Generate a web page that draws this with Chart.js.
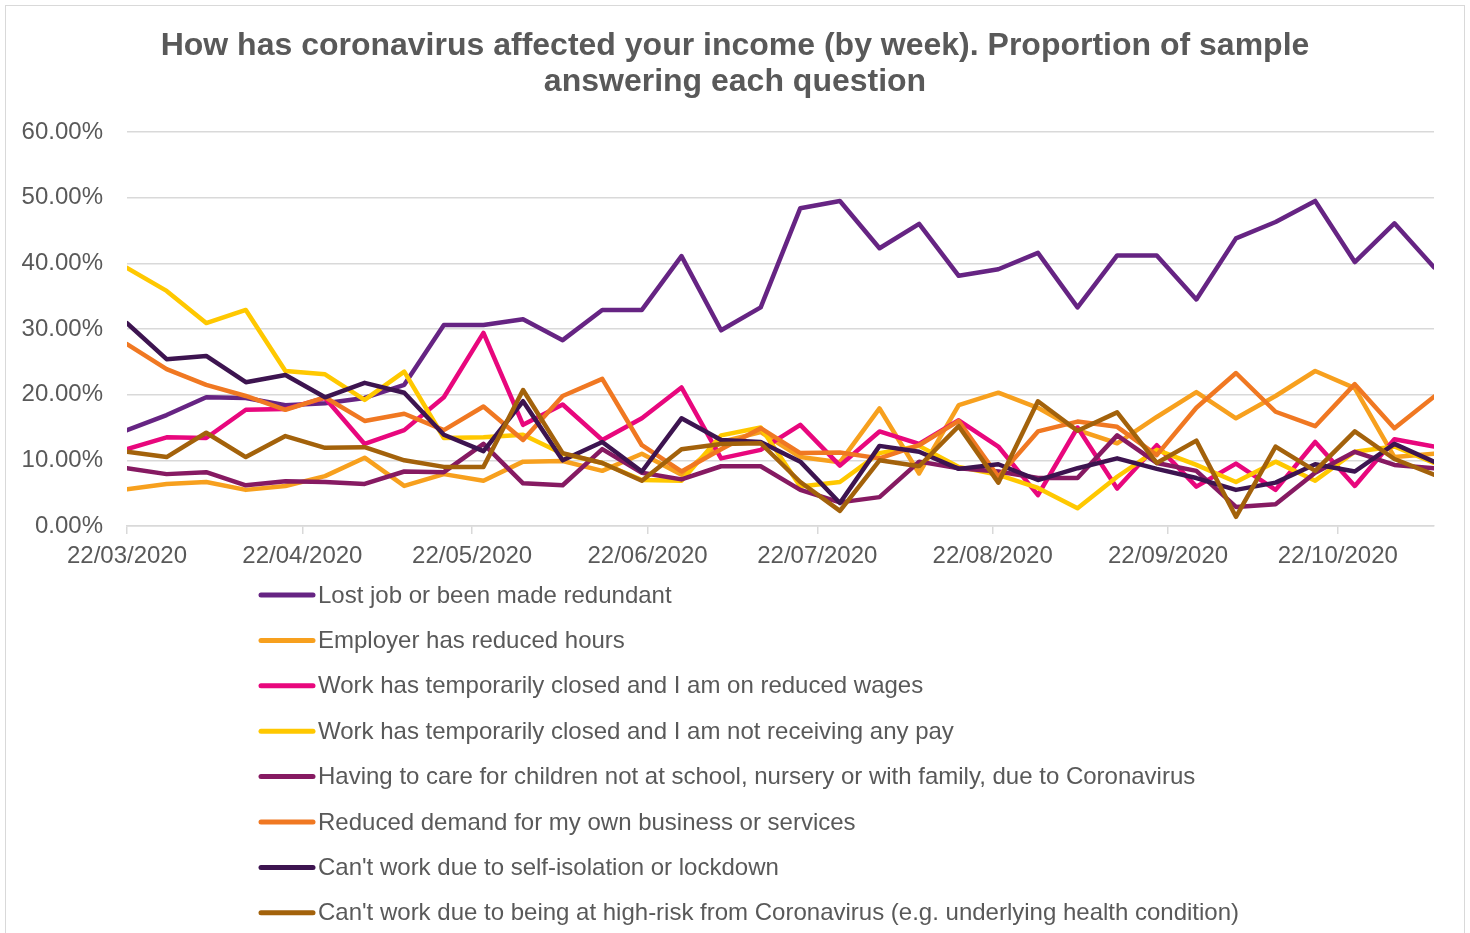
<!DOCTYPE html>
<html>
<head>
<meta charset="utf-8">
<title>Income impact by week</title>
<script src="https://cdn.jsdelivr.net/npm/chart.js@4.4.1/dist/chart.umd.min.js"></script>
<style>
  html, body { margin: 0; padding: 0; background: #ffffff; }
  #frame {
    position: absolute; left: 5px; top: 5px; width: 1460px; height: 940px;
    border: 1.5px solid #d9d9d9; box-sizing: border-box;
  }
  #wrap { position: absolute; left: 0; top: 0; width: 1470px; height: 933px; }
</style>
</head>
<body>
<div id="frame"></div>
<div id="wrap"><canvas id="incomeChart" width="1470" height="933"></canvas></div>
<script>
// Survey weeks (week commencing)
const weeks = ['22/03/2020', '29/03/2020', '05/04/2020', '12/04/2020', '19/04/2020', '26/04/2020',
  '03/05/2020', '10/05/2020', '17/05/2020', '24/05/2020', '31/05/2020', '07/06/2020', '14/06/2020',
  '21/06/2020', '28/06/2020', '05/07/2020', '12/07/2020', '19/07/2020', '26/07/2020', '02/08/2020',
  '09/08/2020', '16/08/2020', '23/08/2020', '30/08/2020', '06/09/2020', '13/09/2020', '20/09/2020',
  '27/09/2020', '04/10/2020', '11/10/2020', '18/10/2020', '25/10/2020', '01/11/2020', '08/11/2020'];

// Month labels shown on the date axis
const tickLabels = ['22/03/2020', '22/04/2020', '22/05/2020', '22/06/2020',
  '22/07/2020', '22/08/2020', '22/09/2020', '22/10/2020'];

const yTicks = [0, 10, 20, 30, 40, 50, 60];

const titleLines = ['How has coronavirus affected your income (by week). Proportion of sample',
  'answering each question'];

const seriesNames = [
  'Lost job or been made redundant',
  'Employer has reduced hours',
  'Work has temporarily closed and I am on reduced wages',
  'Work has temporarily closed and I am not receiving any pay',
  'Having to care for children not at school, nursery or with family, due to Coronavirus',
  'Reduced demand for my own business or services',
  "Can't work due to self-isolation or lockdown",
  "Can't work due to being at high-risk from Coronavirus (e.g. underlying health condition)"
];

// % of sample answering each option
const lostJob = [14.6, 16.9, 19.6, 19.5, 18.4, 18.7, 19.5, 21.5, 30.6, 30.6, 31.5, 28.3, 32.9, 32.9, 41.1, 29.8, 33.3,
  48.4, 49.5, 42.3, 46.0, 38.1, 39.1, 41.6, 33.3, 41.2, 41.2, 34.5, 43.8, 46.3, 49.5, 40.2, 46.1, 39.4];
const reducedHours = [5.6, 6.4, 6.7, 5.5, 6.1, 7.6, 10.4, 6.1, 7.9, 6.9, 9.8, 9.9, 8.4, 11.0, 7.8, 12.8, 14.3,
  10.5, 9.7, 17.9, 8.0, 18.4, 20.3, 18.0, 14.6, 12.6, 16.6, 20.4, 16.4, 19.8, 23.6, 21.0, 10.5, 11.0];
const reducedWages = [11.7, 13.5, 13.4, 17.7, 17.8, 19.5, 12.5, 14.6, 19.6, 29.4, 15.4, 18.5, 13.1, 16.4, 21.1, 10.3, 11.6,
  15.4, 9.2, 14.4, 12.5, 16.1, 12.1, 4.7, 15.0, 5.7, 12.3, 6.0, 9.5, 5.5, 12.8, 6.1, 13.2, 12.1];
const noPay = [39.3, 35.8, 30.9, 32.9, 23.6, 23.1, 19.2, 23.5, 13.4, 13.5, 13.9, 11.0, 9.6, 7.0, 6.9, 13.8, 15.0,
  6.0, 6.7, 11.1, 12.2, 9.0, 7.8, 5.8, 2.7, 7.5, 11.6, 9.3, 6.7, 9.8, 6.9, 11.3, 12.1, 9.6];
const childcare = [8.8, 7.9, 8.2, 6.2, 6.8, 6.7, 6.4, 8.3, 8.2, 12.5, 6.5, 6.2, 11.7, 8.1, 7.1, 9.1, 9.1,
  5.5, 3.6, 4.4, 9.8, 8.8, 8.3, 7.3, 7.3, 13.8, 9.6, 8.4, 2.9, 3.3, 8.1, 11.3, 9.3, 8.8];
const reducedDemand = [27.7, 23.9, 21.5, 19.8, 17.7, 19.6, 16.0, 17.1, 14.6, 18.2, 13.1, 19.8, 22.4, 12.3, 8.3, 11.7, 14.9,
  11.1, 11.2, 10.3, 12.3, 16.0, 7.5, 14.4, 15.9, 15.1, 10.8, 18.0, 23.3, 17.4, 15.2, 21.6, 14.9, 19.7];
const selfIsolation = [30.9, 25.4, 25.9, 21.9, 23.0, 19.6, 21.8, 20.3, 13.9, 11.4, 19.0, 10.0, 12.8, 8.3, 16.4, 13.1, 12.8,
  9.8, 3.5, 12.2, 11.3, 8.7, 9.4, 7.0, 8.8, 10.3, 8.7, 7.3, 5.5, 6.6, 9.4, 8.3, 12.5, 9.8];
const highRisk = [11.3, 10.5, 14.2, 10.5, 13.7, 11.9, 12.0, 10.0, 9.0, 9.0, 20.7, 11.1, 9.6, 6.9, 11.7, 12.5, 12.6,
  6.7, 2.3, 10.0, 9.1, 15.2, 6.6, 19.0, 14.5, 17.3, 9.6, 13.0, 1.4, 12.1, 8.4, 14.4, 10.2, 7.8];

const seriesValues = [lostJob, reducedHours, reducedWages, noPay, childcare, reducedDemand, selfIsolation, highRisk];
const seriesColours = ['#662483', '#F7A01E', '#E8077D', '#FFC800', '#861A62', '#F07822', '#3D1450', '#A3620B'];

const FONT = "'Liberation Sans', Arial, sans-serif";
const GREY = '#595959';
const GRID = '#d9d9d9';

// dd/mm/yyyy -> days since first week
function dayOffset(str) {
  const p = str.split('/');
  const t = Date.UTC(+p[2], +p[1] - 1, +p[0]);
  const p0 = weeks[0].split('/');
  return Math.round((t - Date.UTC(+p0[2], +p0[1] - 1, +p0[0])) / 86400000);
}

const weekDays = weeks.map(dayOffset);
const tickDays = tickLabels.map(dayOffset);

const datasets = seriesValues.map((vals, i) => ({
  label: seriesNames[i],
  data: vals.map((v, j) => ({ x: weekDays[j], y: v })),
  borderColor: seriesColours[i],
  backgroundColor: seriesColours[i],
  borderWidth: 4.5,
  pointRadius: 0,
  tension: 0,
  borderJoinStyle: 'round',
  borderCapStyle: 'round',
  // later series sit on top, like the spreadsheet
  order: seriesValues.length - i
}));

// title centred on the whole canvas rather than the plot
const pageTitle = {
  id: 'pageTitle',
  afterDraw(chart) {
    const ctx = chart.ctx;
    ctx.save();
    ctx.font = 'bold 32px ' + FONT;
    ctx.fillStyle = GREY;
    ctx.textAlign = 'center';
    ctx.textBaseline = 'middle';
    titleLines.forEach((line, i) => ctx.fillText(line, chart.width / 2, 46 + i * 36));
    ctx.restore();
  }
};

// legend stacked one entry per row under the axis
const stackedLegend = {
  id: 'stackedLegend',
  afterDraw(chart) {
    const ctx = chart.ctx;
    const top = chart.chartArea.bottom + 69;
    ctx.save();
    ctx.font = '24px ' + FONT;
    ctx.textBaseline = 'middle';
    chart.data.datasets.forEach((ds, i) => {
      const y = top + i * 45.4;
      ctx.strokeStyle = ds.borderColor;
      ctx.lineWidth = 5;
      ctx.lineCap = 'round';
      ctx.beginPath();
      ctx.moveTo(261, y);
      ctx.lineTo(313, y);
      ctx.stroke();
      ctx.fillStyle = GREY;
      ctx.fillText(ds.label, 318, y + 1);
    });
    ctx.restore();
  }
};

const ctx = document.getElementById('incomeChart').getContext('2d');
const chart = new Chart(ctx, {
  type: 'line',
  data: { datasets: datasets },
  plugins: [pageTitle, stackedLegend],
  options: {
    responsive: false,
    animation: false,
    layout: { padding: { left: 0, right: 36, top: 132, bottom: 357 } },
    plugins: {
      legend: { display: false },
      tooltip: { enabled: false },
      title: { display: false }
    },
    scales: {
      x: {
        type: 'linear',
        min: 0,
        max: weekDays[weekDays.length - 1],
        afterFit(scale) { scale.height = 50; },
        afterBuildTicks(scale) { scale.ticks = tickDays.map(v => ({ value: v })); },
        grid: { drawOnChartArea: false, drawTicks: true, tickLength: 8, color: GRID, lineWidth: 1.5 },
        border: { display: true, color: GRID, width: 1.5 },
        ticks: {
          autoSkip: false,
          maxRotation: 0,
          padding: 8,
          color: GREY,
          font: { family: FONT, size: 24 },
          callback: (value) => tickLabels[tickDays.indexOf(value)]
        }
      },
      y: {
        min: 0,
        max: 60,
        afterFit(scale) { scale.width = 127; },
        afterBuildTicks(scale) { scale.ticks = yTicks.map(v => ({ value: v })); },
        grid: { color: GRID, lineWidth: 1.5, drawTicks: false },
        border: { display: false },
        ticks: {
          padding: 24,
          color: GREY,
          font: { family: FONT, size: 24 },
          callback: (value) => value.toFixed(2) + '%'
        }
      }
    }
  }
});
</script>
</body>
</html>
